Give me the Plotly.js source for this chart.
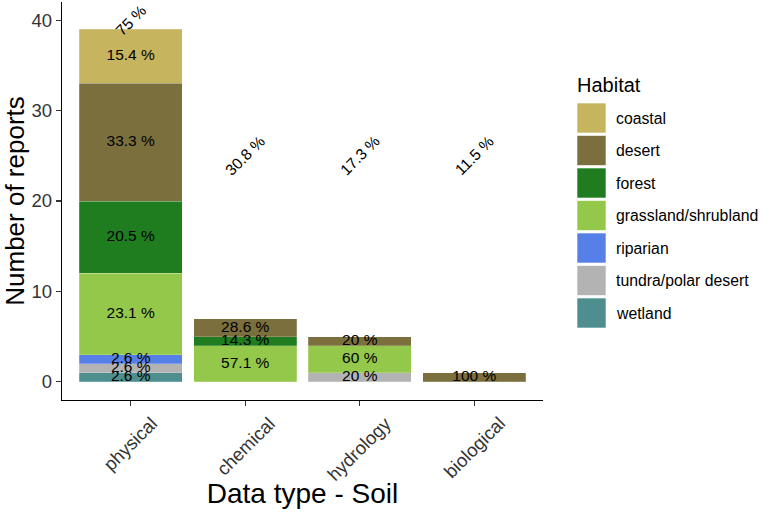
<!DOCTYPE html>
<html>
<head>
<meta charset="utf-8">
<script src="https://cdn.plot.ly/plotly-3.0.1.min.js"></script>
<style>
  html, body { margin: 0; padding: 0; background: #fff; }
  #chart { width: 765px; height: 512px; }
</style>
</head>
<body>
<div id="chart"></div>
<script>
var dataTypes = ['physical', 'chemical', 'hydrology', 'biological'];
var habitats = ['coastal', 'desert', 'forest', 'grassland/shrubland', 'riparian', 'tundra/polar desert', 'wetland'];
var habitatColors = ['#c6b45e', '#7a6f3d', '#1f7d1f', '#93c84b', '#5680e8', '#b3b3b3', '#4e8e8e'];

// number of reports per habitat, one value per data type
var coastal   = [6, 0, 0, 0];
var desert    = [13, 2, 1, 1];
var forest    = [8, 1, 0, 0];
var grassland = [9, 4, 3, 0];
var riparian  = [1, 0, 0, 0];
var tundra    = [1, 0, 1, 0];
var wetland   = [1, 0, 0, 0];
var counts = [coastal, desert, forest, grassland, riparian, tundra, wetland];

// share labels shown above each column, and their height
var topLabels = ['75 %', '30.8 %', '17.3 %', '11.5 %'];
var topLabelY = [40, 25, 25, 25];

var FONT = 'Liberation Sans, Arial, sans-serif';

var totals = dataTypes.map(function (_, j) {
    return counts.reduce(function (s, c) { return s + c[j]; }, 0);
});

function pct(v, t) {
    return Number((v / t * 100).toFixed(1)) + ' %';
}

var traces = [];
// ggplot puts the first level on top, so stack from the last one up
for (var i = habitats.length - 1; i >= 0; i--) {
    traces.push({
        type: 'bar',
        name: habitats[i],
        x: dataTypes,
        y: counts[i],
        width: 0.9,
        marker: {
            color: habitatColors[i],
            line: { color: 'rgba(255,255,255,0.35)', width: 0.6 }
        },
        hoverinfo: 'x+y+name',
        showlegend: false
    });
}

// labels in the middle of each segment
var lx = [], ly = [], lt = [];
dataTypes.forEach(function (d, j) {
    var base = 0;
    for (var i = habitats.length - 1; i >= 0; i--) {
        var v = counts[i][j];
        if (v > 0) {
            lx.push(d);
            ly.push(base + v / 2);
            lt.push(pct(v, totals[j]));
        }
        base += v;
    }
});
traces.push({
    type: 'scatter',
    mode: 'text',
    x: lx,
    y: ly,
    text: lt,
    textposition: 'middle center',
    textfont: { family: FONT, size: 15.5, color: '#000' },
    hoverinfo: 'skip',
    showlegend: false
});

// plot area in pixels: left 62, right 543, top 2, bottom 400
function px(x) { return (x - 62) / 481; }
function py(y) { return (400 - y) / 398; }

var annotations = dataTypes.map(function (d, j) {
    return {
        x: d, y: topLabelY[j], xref: 'x', yref: 'y',
        text: topLabels[j], showarrow: false, textangle: -45,
        font: { family: FONT, size: 15.5, color: '#000' }
    };
});

// rotated category labels, centred under each tick
dataTypes.forEach(function (d) {
    annotations.push({
        x: d, xref: 'x', yref: 'paper', y: py(410),
        xanchor: 'center', yanchor: 'top',
        text: d, showarrow: false, textangle: -45,
        font: { family: FONT, size: 18.5, color: '#333' }
    });
});

var shapes = [];
annotations.push({
    xref: 'paper', yref: 'paper', x: px(575), y: py(85),
    xanchor: 'left', yanchor: 'middle', showarrow: false,
    text: 'Habitat',
    font: { family: FONT, size: 20, color: '#000' }
});
habitats.forEach(function (h, i) {
    var top = 103 + i * 32.5;
    shapes.push({
        type: 'rect', xref: 'paper', yref: 'paper',
        x0: px(577), x1: px(606), y0: py(top + 30), y1: py(top),
        fillcolor: habitatColors[i],
        line: { color: 'rgba(255,255,255,0.6)', width: 1 }
    });
    annotations.push({
        xref: 'paper', yref: 'paper', x: px(614), y: py(top + 15),
        xanchor: 'left', yanchor: 'middle', showarrow: false,
        text: h,
        font: { family: FONT, size: 15.8, color: '#000' }
    });
});

var layout = {
    width: 765,
    height: 512,
    margin: { l: 62, r: 222, t: 2, b: 112, pad: 0 },
    barmode: 'stack',
    plot_bgcolor: '#fff',
    paper_bgcolor: '#fff',
    showlegend: false,
    font: { family: FONT, color: '#000' },
    xaxis: {
        type: 'category',
        range: [-0.6, 3.6],
        showgrid: false,
        zeroline: false,
        showline: true,
        linecolor: '#000',
        linewidth: 1.2,
        ticks: 'outside',
        ticklen: 5,
        tickwidth: 1.1,
        tickcolor: '#333',
        showticklabels: false,
        title: { text: 'Data type - Soil', font: { size: 28, color: '#000' }, standoff: 78 }
    },
    yaxis: {
        range: [-2, 42],
        tickvals: [0, 10, 20, 30, 40],
        showgrid: false,
        zeroline: false,
        showline: true,
        linecolor: '#000',
        linewidth: 1.2,
        ticks: 'outside',
        ticklen: 5,
        tickwidth: 1.1,
        tickcolor: '#333',
        tickfont: { size: 18.5, color: '#333' },
        title: { text: 'Number of reports', font: { size: 26, color: '#000' }, standoff: 6 }
    },
    annotations: annotations,
    shapes: shapes
};

Plotly.newPlot('chart', traces, layout, { displayModeBar: false, staticPlot: true });
</script>
</body>
</html>
